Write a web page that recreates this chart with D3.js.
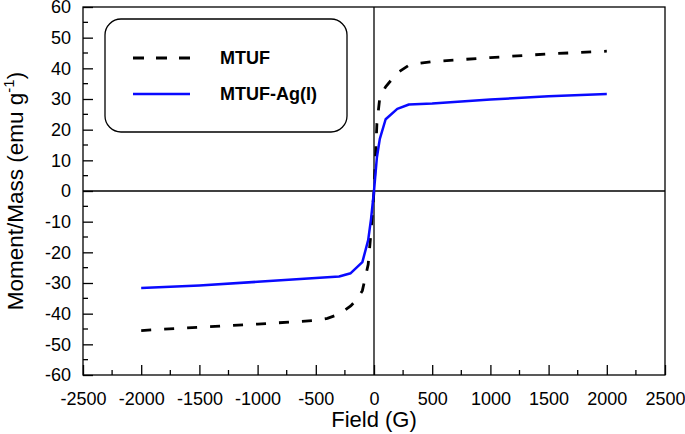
<!DOCTYPE html>
<html><head><meta charset="utf-8">
<script src="https://cdn.jsdelivr.net/npm/d3@7"></script>
<style>body{margin:0;background:#fff}svg{display:block}text{font-family:"Liberation Sans",Arial,sans-serif}</style>
</head><body><svg id="c" width="685" height="434"></svg>
<script>
const seriesNames = ["MTUF", "MTUF-Ag(I)"];
const fieldMTUF = [-2000,-1500,-1000,-500,-400,-300,-200,-150,-100,-50,-25,0,25,50,100,200,300,400,500,1000,1500,2000];
const momentMTUF = [-45.5,-44.4,-43.4,-42.2,-41.5,-40.2,-37.5,-35.5,-32.5,-24,-13,0,22,30.5,34,38.5,41,41.7,42.2,43.5,44.7,45.6];
const fieldAg = [-2000,-1500,-1000,-500,-300,-200,-100,-50,-25,0,25,50,100,200,300,500,1000,1500,2000];
const momentAg = [-31.6,-30.8,-29.6,-28.4,-27.9,-26.8,-23.2,-16,-9,0,11,17,23.4,26.8,28.2,28.5,29.8,30.9,31.6];
const xTicks = [-2500,-2000,-1500,-1000,-500,0,500,1000,1500,2000,2500];
const yTicks = [-60,-50,-40,-30,-20,-10,0,10,20,30,40,50,60];

const svg = d3.select("#c");
const L = 83, R = 665, T = 7, B = 375;
const x = d3.scaleLinear().domain([-2500, 2500]).range([L, R]);
const y = d3.scaleLinear().domain([-60, 60]).range([B, T]);
const fmt = d => String(d);

svg.append("rect").attr("x", L).attr("y", T).attr("width", R - L).attr("height", B - T)
  .attr("fill", "none").attr("stroke", "#000").attr("stroke-width", 1.3);
svg.append("line").attr("x1", x(0)).attr("x2", x(0)).attr("y1", T).attr("y2", B).attr("stroke", "#000").attr("stroke-width", 1.3);
svg.append("line").attr("x1", L).attr("x2", R).attr("y1", y(0)).attr("y2", y(0)).attr("stroke", "#000").attr("stroke-width", 1.3);

const xAxis = d3.axisBottom(x).tickValues(xTicks).tickFormat(fmt).tickSizeInner(-10).tickSizeOuter(0).tickPadding(17);
const gx = svg.append("g").attr("transform", `translate(0,${B})`).call(xAxis);
const xMinor = d3.range(-2250, 2500, 500);
gx.selectAll(".minor").data(xMinor).enter().append("line").attr("class","minor")
  .attr("x1", d => x(d)).attr("x2", d => x(d)).attr("y1", 0).attr("y2", -5).attr("stroke", "#000").attr("stroke-width", 1.3);

const yAxis = d3.axisLeft(y).tickValues(yTicks).tickFormat(fmt).tickSizeInner(-10).tickSizeOuter(0).tickPadding(12);
const gy = svg.append("g").attr("transform", `translate(${L},0)`).call(yAxis);
const yMinor = d3.range(-55, 60, 10);
gy.selectAll(".minor").data(yMinor).enter().append("line").attr("class","minor")
  .attr("x1", 0).attr("x2", 5).attr("y1", d => y(d)).attr("y2", d => y(d)).attr("stroke", "#000").attr("stroke-width", 1.3);

[gx, gy].forEach(g => {
  g.select(".domain").remove();
  g.selectAll(".tick line").attr("stroke", "#000").attr("stroke-width", 1.3);
  g.selectAll(".tick text").attr("fill", "#000").style("font-size", "18px").style("font-family", '"Liberation Sans",Arial,sans-serif');
});

const line = d3.line().x(d => x(d[0])).y(d => y(d[1]));
svg.append("path").datum(fieldMTUF.map((f, i) => [f, momentMTUF[i]]))
  .attr("d", line).attr("fill", "none").attr("stroke", "#000").attr("stroke-width", 2.8)
  .attr("stroke-dasharray", "10,13");
svg.append("path").datum(fieldAg.map((f, i) => [f, momentAg[i]]))
  .attr("d", line).attr("fill", "none").attr("stroke", "#0a0aff").attr("stroke-width", 2.5)
  .attr("stroke-linejoin", "round");

const lg = svg.append("g");
lg.append("rect").attr("x", 105).attr("y", 19).attr("width", 242).attr("height", 113).attr("rx", 16).attr("ry", 16)
  .attr("fill", "#fff").attr("stroke", "#000").attr("stroke-width", 1.3);
lg.append("line").attr("x1", 133).attr("x2", 190).attr("y1", 58).attr("y2", 58)
  .attr("stroke", "#000").attr("stroke-width", 2.8).attr("stroke-dasharray", "11,12");
lg.append("line").attr("x1", 133).attr("x2", 190).attr("y1", 94).attr("y2", 94)
  .attr("stroke", "#0a0aff").attr("stroke-width", 2.5);
lg.append("text").attr("x", 220).attr("y", 64).text(seriesNames[0]).style("font-size", "18px").style("font-weight", "bold");
lg.append("text").attr("x", 220).attr("y", 100).text(seriesNames[1]).style("font-size", "18px").style("font-weight", "bold");

svg.append("text").attr("x", x(0)).attr("y", 427).attr("text-anchor", "middle").style("font-size", "22px").text("Field (G)");
const yt = svg.append("text").attr("transform", `translate(23,${(T + B) / 2}) rotate(-90)`).attr("text-anchor", "middle").style("font-size", "22.5px");
yt.append("tspan").text("Moment/Mass (emu g");
yt.append("tspan").attr("dy", -9).style("font-size", "15px").text("-1");
yt.append("tspan").attr("dy", 9).text(")");
</script></body></html>
